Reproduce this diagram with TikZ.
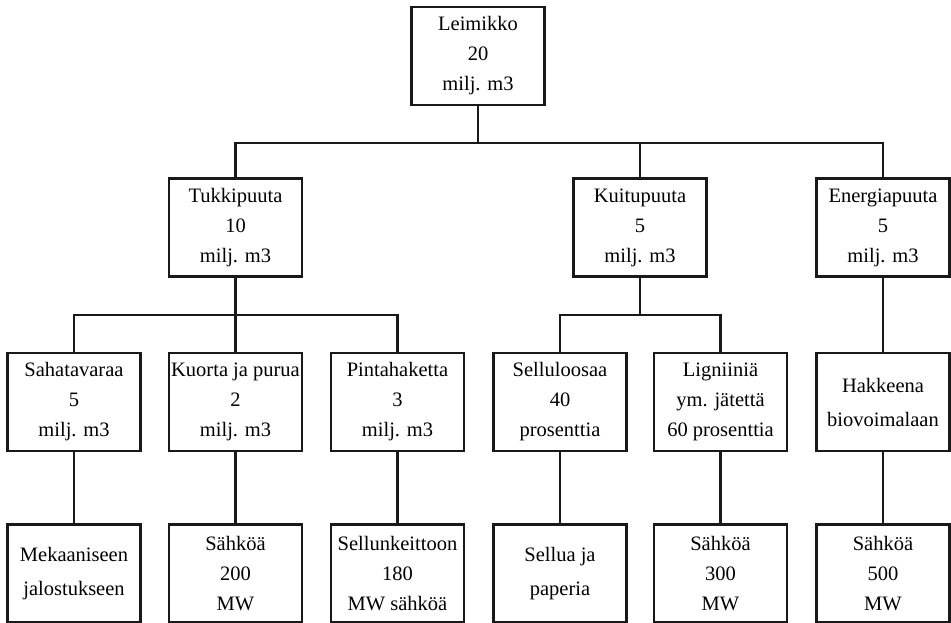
\documentclass[tikz,border=0pt]{standalone}
\usepackage{fontspec}
\setmainfont{Liberation Serif}
\begin{document}
\begin{tikzpicture}[x=1pt,y=-1pt,
  box/.style={draw=black!90, line width=2.2pt, minimum width=133pt, minimum height=98pt,
    inner sep=0pt, align=center, font=\fontsize{20.5}{30}\selectfont, text=black},
  conn/.style={draw=black!90, line width=2.2pt}]
\useasboundingbox (0,0) rectangle (951,623);
% level 1
\node[box] (lei) at (478,56) {Leimikko\\20\\milj. m3};
% level 2
\node[box] (tuk) at (235.5,227.5) {Tukkipuuta\\10\\milj. m3};
\node[box] (kui) at (640,227.5) {Kuitupuuta\\5\\milj. m3};
\node[box] (ene) at (883,227.5) {Energiapuuta\\5\\milj. m3};
% level 3
\node[box] (sah) at (74,402) {Sahatavaraa\\5\\milj. m3};
\node[box] (kuo) at (235.5,402) {Kuorta ja purua\\2\\milj. m3};
\node[box] (pin) at (397.5,402) {Pintahaketta\\3\\milj. m3};
\node[box] (sel) at (560,402) {Selluloosaa\\40\\prosenttia};
\node[box] (lig) at (720.5,402) {Ligniiniä\\ym. jätettä\\60 prosenttia};
\node[box] (hak) at (883,402) {Hakkeena\\[4pt]biovoimalaan};
% level 4
\node[box] (mek) at (74,573.5) {Mekaaniseen\\[4pt]jalostukseen};
\node[box] (sa2) at (235.5,573.5) {Sähköä\\200\\MW};
\node[box] (sk1) at (397.5,573.5) {Sellunkeittoon\\180\\MW sähköä};
\node[box] (spa) at (560,573.5) {Sellua ja\\[4pt]paperia};
\node[box] (sa3) at (720.5,573.5) {Sähköä\\300\\MW};
\node[box] (sa5) at (883,573.5) {Sähköä\\500\\MW};
% connectors
\coordinate (b1) at (478,143);
\draw[conn] (lei.south) -- (b1);
\draw[conn] (tuk.north) |- (b1) -| (ene.north);
\draw[conn] (kui.north) -- (kui.north |- b1);
\coordinate (b2) at (235.5,315);
\draw[conn] (tuk.south) -- (b2);
\draw[conn] (sah.north) |- (b2) -| (pin.north);
\draw[conn] (kuo.north) -- (b2);
\coordinate (b3) at (640,315);
\draw[conn] (kui.south) -- (b3);
\draw[conn] (sel.north) |- (b3) -| (lig.north);
\draw[conn] (ene.south) -- (hak.north);
\draw[conn] (sah.south) -- (mek.north);
\draw[conn] (kuo.south) -- (sa2.north);
\draw[conn] (pin.south) -- (sk1.north);
\draw[conn] (sel.south) -- (spa.north);
\draw[conn] (lig.south) -- (sa3.north);
\draw[conn] (hak.south) -- (sa5.north);
\end{tikzpicture}
\end{document}
